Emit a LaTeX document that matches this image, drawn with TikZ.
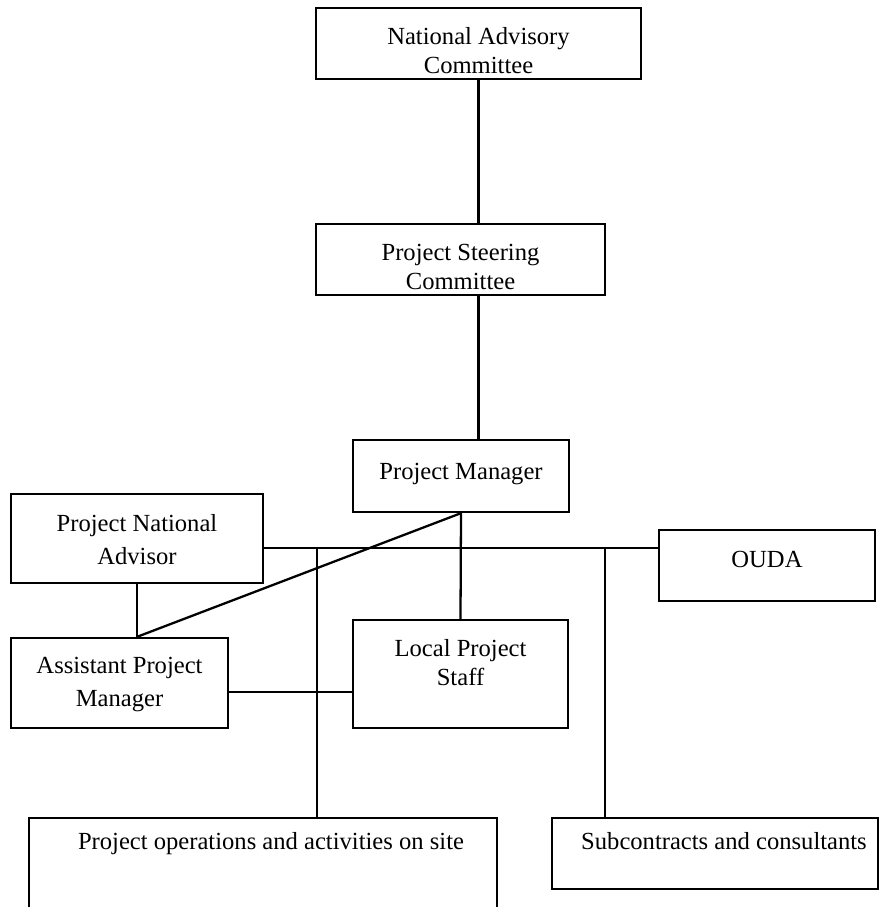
\documentclass[tikz,border=0pt]{standalone}
\usepackage{fontspec}
\setmainfont{Liberation Serif}
\usetikzlibrary{calc}
\begin{document}
\begin{tikzpicture}[x=0.02cm, y=-0.02cm,
	box/.style 2 args={draw, line width=1.3pt, minimum width=#1*0.02cm, minimum height=#2*0.02cm, inner sep=0pt},
	lbl/.style={anchor=north, align=center, inner sep=0pt, font=\fontsize{14pt}{16.5pt}\selectfont},
	widelbl/.style={lbl, font=\fontsize{14pt}{18.7pt}\selectfont},
	link/.style={line width=1.3pt}]
	
	% Page frame
	\useasboundingbox (0,0) rectangle (880,907);
	\clip (0,0) rectangle (880,907);
	
	% Boxes
	\node[box={325}{71}] (nac) at (478.5,43.5) {};
	\node[box={289}{71}] (psc) at (460.5,259.5) {};
	\node[box={216}{72}] (pm) at (461,476) {};
	\node[box={252}{89}] (pna) at (137,538.5) {};
	\node[box={216}{71}] (ouda) at (767,565.5) {};
	\node[box={217}{90}] (apm) at (119.5,683) {};
	\node[box={215}{108}] (lps) at (460.5,674) {};
	\node[box={468}{120}] (ops) at (263,878) {};
	\node[box={326}{71}] (subc) at (715,853.5) {};
	
	% Box texts
	\node[lbl] at ($(nac.north)+(0,20)$) {National Advisory\\Committee};
	\node[lbl] at ($(psc.north)+(0,21)$) {Project Steering\\Committee};
	\node[lbl] at ($(pm.north)+(0,24)$) {Project Manager};
	\node[widelbl] at ($(pna.north)+(0,21)$) {Project National\\Advisor};
	\node[lbl] at ($(ouda.north)+(0,22)$) {OUDA};
	\node[widelbl] at ($(apm.north)+(0,20)$) {Assistant Project\\Manager};
	\node[lbl] at ($(lps.north)+(0,20)$) {Local Project\\Staff};
	\node[lbl] at ($(ops.north)+(8,15)$) {Project operations and activities on site};
	\node[lbl] at ($(subc.north)+(9,15)$) {Subcontracts and consultants};
	
	% Junction points
	\coordinate (bus) at (0,548);
	\coordinate (dropL) at (317,548);
	\coordinate (dropR) at (605,548);
	\coordinate (cross) at (0,692);
	
	% Connectors
	\draw[link] (nac.south) -- (nac.south |- psc.north);
	\draw[link] (nac.south |- psc.south) -- (nac.south |- pm.north);
	\draw[link] (pm.south) -- (lps.north);
	\draw[link] (pm.south) -- (pna.south |- apm.north);
	\draw[link] (pna.south) -- (pna.south |- apm.north);
	\draw[link] (pna.east |- bus) -- (ouda.west |- bus);
	\draw[link] (dropL) -- (dropL |- ops.north);
	\draw[link] (dropR) -- (dropR |- subc.north);
	\draw[link] (apm.east |- cross) -- (lps.west |- cross);
	
\end{tikzpicture}
\end{document}
